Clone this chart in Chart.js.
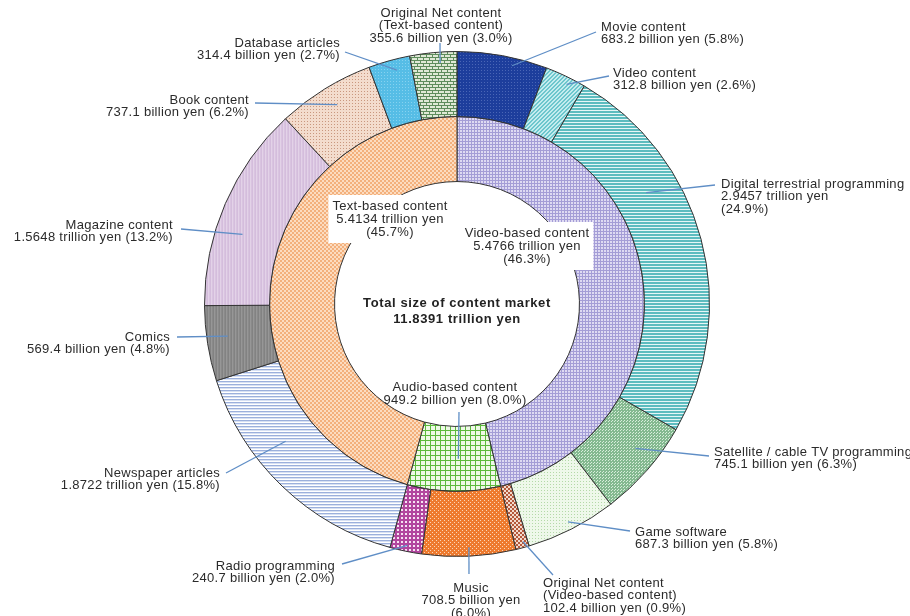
<!DOCTYPE html>
<html>
<head>
<meta charset="utf-8">
<script src="https://cdn.jsdelivr.net/npm/chart.js@4"></script>
<style>
  html, body { margin: 0; padding: 0; background: #fff; }
  #wrap { width: 910px; height: 616px; position: relative; }
</style>
</head>
<body>
<div id="wrap"><canvas id="contentChart"></canvas></div>
<script>
// outer ring: content categories (billion yen), clockwise from 12 o'clock
const outerLabels = ['Movie content', 'Video content', 'Digital terrestrial programming',
    'Satellite / cable TV programming', 'Game software', 'Original Net content\n(Video-based content)',
    'Music', 'Radio programming', 'Newspaper articles', 'Comics', 'Magazine content',
    'Book content', 'Database articles', 'Original Net content\n(Text-based content)'];
const outerValues = [683.2, 312.8, 2945.7, 745.1, 687.3, 102.4, 708.5, 240.7, 1872.2, 569.4, 1564.8, 737.1, 314.4, 355.6];
const outerShares = [5.8, 2.6, 24.9, 6.3, 5.8, 0.9, 6.0, 2.0, 15.8, 4.8, 13.2, 6.2, 2.7, 3.0];

// inner ring: content groups
const innerLabels = ['Video-based content', 'Audio-based content', 'Text-based content'];
const innerValues = [5476.6, 949.2, 5413.4];
const innerShares = [46.3, 8.0, 45.7];

const totalLines = ['Total size of content market', '11.8391 trillion yen'];

function yen(v) {
    return v >= 1000 ? (v / 1000).toFixed(4) + ' trillion yen' : v.toFixed(1) + ' billion yen';
}

// label placement: text anchor, alignment, pct on own line, leader start (angle deg / radius px) and end
const outerLayout = [
    { x: 601, y: 27, align: 'left', split: false, ang: 13, r: 245, ex: 596, ey: 32 },
    { x: 613, y: 73, align: 'left', split: false, ang: 26.5, r: 246, ex: 609, ey: 76 },
    { x: 721, y: 184, align: 'left', split: true, ang: 59.5, r: 220, ex: 715, ey: 185 },
    { x: 714, y: 452, align: 'left', split: false, ang: 129, r: 230, ex: 709, ey: 456 },
    { x: 635, y: 532, align: 'left', split: false, ang: 153, r: 245, ex: 630, ey: 531 },
    { x: 543, y: 583, align: 'left', split: false, ang: 164.5, r: 247, ex: 553, ey: 575 },
    { x: 471, y: 588, align: 'center', split: true, ang: 177.2, r: 244, ex: 469, ey: 574 },
    { x: 335, y: 566, align: 'right', split: false, ang: 191.6, r: 247, ex: 342, ey: 564 },
    { x: 220, y: 473, align: 'right', split: false, ang: 231.3, r: 220, ex: 226, ey: 473 },
    { x: 170, y: 337, align: 'right', split: false, ang: 262, r: 232, ex: 177, ey: 337 },
    { x: 173, y: 225, align: 'right', split: false, ang: 288, r: 226, ex: 181, ey: 229 },
    { x: 249, y: 100, align: 'right', split: false, ang: 329, r: 233, ex: 255, ey: 103 },
    { x: 340, y: 43, align: 'right', split: false, ang: 345.6, r: 242, ex: 345, ey: 52 },
    { x: 441, y: 13, align: 'center', split: false, ang: 356, r: 242, ex: 440, ey: 43 }
];
const innerLayout = [
    { x: 527, y: 233, align: 'center', split: true, box: true },
    { x: 455, y: 387, align: 'center', split: false, ang: 179.5, r: 155, ex: 459, ey: 412 },
    { x: 390, y: 206, align: 'center', split: true, box: true }
];

// hatch tiles
function tile(w, h, paint) {
    const c = document.createElement('canvas');
    c.width = w; c.height = h;
    const g = c.getContext('2d');
    paint(g);
    return g.createPattern(c, 'repeat');
}
function px(g, color, pts) {
    g.fillStyle = color;
    pts.forEach(p => g.fillRect(p[0], p[1], p[2] || 1, p[3] || 1));
}
function solid(g, color, w, h) { g.fillStyle = color; g.fillRect(0, 0, w, h); }

const outerPatterns = [
    tile(3, 3, g => { solid(g, '#1d3e9c', 3, 3); px(g, '#4a66b6', [[1, 1]]); }),
    tile(4, 4, g => { solid(g, '#c4ecee', 4, 4); px(g, '#6cc6cd', [[3, 0], [2, 1], [1, 2], [0, 3], [0, 0], [3, 1], [2, 2], [1, 3]]); }),
    tile(1, 3, g => { px(g, '#5dbcbf', [[0, 0], [0, 1]]); px(g, '#e6f6f6', [[0, 2]]); }),
    tile(3, 3, g => { solid(g, '#84b990', 3, 3); px(g, '#d8eedb', [[0, 0], [2, 1]]); }),
    tile(3, 3, g => { solid(g, '#eef8ea', 3, 3); px(g, '#b4d9a8', [[1, 1]]); }),
    tile(4, 4, g => { solid(g, '#f2dacd', 4, 4); px(g, '#b4583a', [[0, 0, 2, 2], [2, 2, 2, 2]]); }),
    tile(4, 4, g => { solid(g, '#ee7a2e', 4, 4); px(g, '#fbd6b8', [[0, 0], [2, 2]]); }),
    tile(4, 4, g => { solid(g, '#b2469e', 4, 4); px(g, '#f6e2f2', [[1, 1, 2, 2]]); }),
    tile(1, 3, g => { px(g, '#9cb0dc', [[0, 0]]); px(g, '#d8e1f3', [[0, 1]]); px(g, '#ffffff', [[0, 2]]); }),
    tile(3, 1, g => { px(g, '#828282', [[0, 0]]); px(g, '#979797', [[1, 0]]); px(g, '#8a8a8a', [[2, 0]]); }),
    tile(3, 1, g => { px(g, '#d4bddc', [[0, 0]]); px(g, '#e3d2e8', [[1, 0]]); px(g, '#d9c4e0', [[2, 0]]); }),
    tile(3, 3, g => { solid(g, '#f3dccd', 3, 3); px(g, '#c9977e', [[1, 1]]); }),
    tile(3, 3, g => { solid(g, '#56bde6', 3, 3); px(g, '#86d2f0', [[0, 0]]); }),
    tile(6, 6, g => { solid(g, '#dfe9d6', 6, 6); px(g, '#5e8c5c', [[0, 0, 6, 1], [0, 3, 6, 1], [0, 1, 1, 2], [3, 4, 1, 2]]); })
];
const innerPatterns = [
    tile(3, 3, g => { solid(g, '#dedaf2', 3, 3); px(g, '#a49dd6', [[0, 0, 3, 1], [0, 0, 1, 3]]); }),
    tile(5, 5, g => { solid(g, '#eef9e6', 5, 5); px(g, '#5cba3c', [[0, 0, 5, 1], [0, 0, 1, 5]]); }),
    tile(4, 4, g => { solid(g, '#fcdcc0', 4, 4); px(g, '#f3b07c', [[0, 0, 2, 2], [2, 2, 2, 2]]); })
];

const FONT = '13px "Liberation Sans", Arial, sans-serif';
const BOLD = 'bold 13px "Liberation Sans", Arial, sans-serif';

function labelLines(name, v, pct, split) {
    const lines = name.split('\n');
    if (split) {
        lines.push(yen(v), '(' + pct.toFixed(1) + '%)');
    } else {
        lines.push(yen(v) + ' (' + pct.toFixed(1) + '%)');
    }
    return lines;
}

const ringLabels = {
    id: 'ringLabels',
    afterDatasetsDraw(chart) {
        const ctx = chart.ctx;
        const outer = chart.getDatasetMeta(0).data;
        const cx = outer[0].x, cy = outer[0].y;
        const scale = outer[0].outerRadius / 253;
        ctx.save();

        // leader lines
        ctx.strokeStyle = '#5f8ec6';
        ctx.lineWidth = 1.3;
        const leader = (L) => {
            const a = L.ang * Math.PI / 180;
            ctx.beginPath();
            ctx.moveTo(cx + L.r * scale * Math.sin(a), cy - L.r * scale * Math.cos(a));
            ctx.lineTo(L.ex, L.ey);
            ctx.stroke();
        };
        outerLayout.forEach(leader);
        innerLayout.filter(L => L.ang !== undefined).forEach(leader);

        ctx.font = FONT;
        ctx.letterSpacing = '0.3px';
        ctx.textBaseline = 'middle';
        const LH = 12.8;

        const drawBlock = (lines, L, lh) => {
            ctx.textAlign = L.align;
            if (L.box) {
                const w = Math.max(...lines.map(s => ctx.measureText(s).width));
                ctx.fillStyle = '#ffffff';
                ctx.fillRect(L.x - w / 2 - 4, L.y - 11, w + 8, lh * (lines.length - 1) + 22);
            }
            ctx.fillStyle = '#2b2b2b';
            lines.forEach((s, k) => ctx.fillText(s, L.x, L.y + k * lh));
        };

        outerLabels.forEach((name, i) => {
            drawBlock(labelLines(name, outerValues[i], outerShares[i], outerLayout[i].split), outerLayout[i], LH);
        });
        innerLabels.forEach((name, i) => {
            drawBlock(labelLines(name, innerValues[i], innerShares[i], innerLayout[i].split), innerLayout[i], 13);
        });

        ctx.font = BOLD;
        ctx.letterSpacing = '0.6px';
        ctx.textAlign = 'center';
        ctx.fillStyle = '#222';
        totalLines.forEach((s, k) => ctx.fillText(s, cx, cy - 1 + k * 16));
        ctx.restore();
    }
};

new Chart(document.getElementById('contentChart'), {
    type: 'doughnut',
    data: {
        labels: outerLabels,
        datasets: [
            { data: outerValues, backgroundColor: outerPatterns, borderColor: '#333', borderWidth: 1 },
            { data: innerValues, backgroundColor: innerPatterns, borderColor: '#333', borderWidth: 1 }
        ]
    },
    options: {
        responsive: true,
        maintainAspectRatio: false,
        animation: false,
        cutout: '48.5%',
        events: [],
        layout: { padding: { left: 204, right: 200, top: 51, bottom: 59 } },
        plugins: {
            legend: { display: false },
            tooltip: { enabled: false }
        }
    },
    plugins: [ringLabels]
});
</script>
</body>
</html>
